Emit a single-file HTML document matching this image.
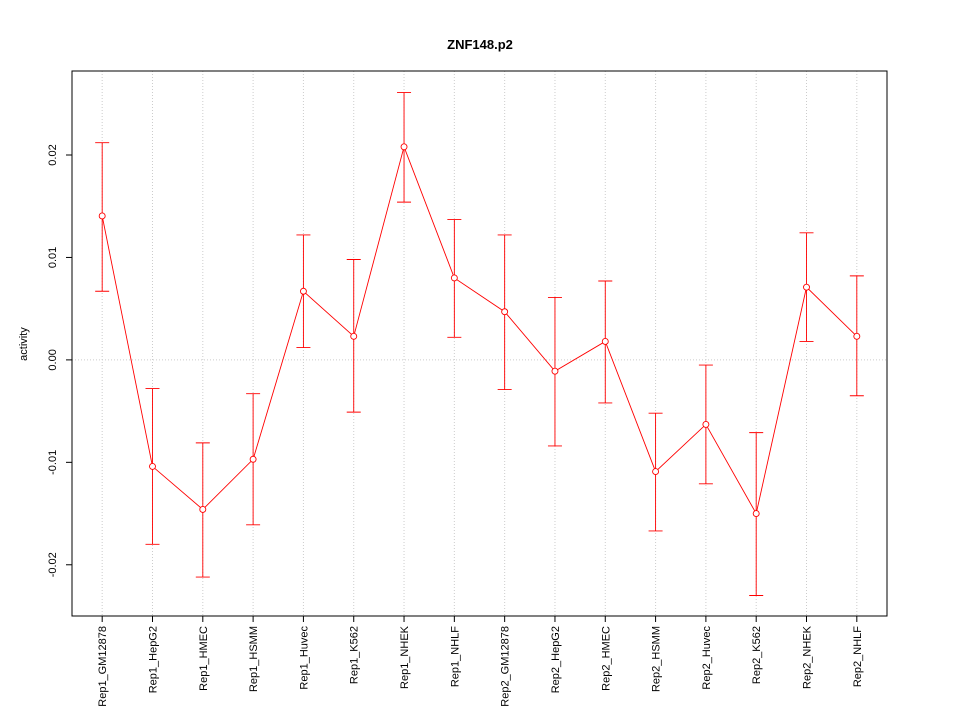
<!DOCTYPE html>
<html><head><meta charset="utf-8"><style>body{margin:0;background:#fff}svg{font-family:"Liberation Sans",sans-serif}</style></head>
<body>
<svg id="chart" width="960" height="720" xmlns="http://www.w3.org/2000/svg">
<rect width="960" height="720" fill="#fff"/>
<text x="480" y="49" text-anchor="middle" font-weight="bold" font-size="13">ZNF148.p2</text>
<text transform="translate(27,344) rotate(-90)" text-anchor="middle" font-size="11">activity</text>
<g id="grid"></g><g id="axes"></g><g id="marks"></g>
<rect x="72" y="71" width="815" height="545" fill="none" stroke="#000"/>
</svg>
<script>
const categories=["Rep1_GM12878","Rep1_HepG2","Rep1_HMEC","Rep1_HSMM","Rep1_Huvec","Rep1_K562","Rep1_NHEK","Rep1_NHLF","Rep2_GM12878","Rep2_HepG2","Rep2_HMEC","Rep2_HSMM","Rep2_Huvec","Rep2_K562","Rep2_NHEK","Rep2_NHLF"];
const values=[0.01405,-0.0104,-0.0146,-0.0097,0.0067,0.0023,0.0208,0.0080,0.0047,-0.0011,0.0018,-0.0109,-0.0063,-0.0150,0.0071,0.0023];
const upper=[0.0212,-0.0028,-0.0081,-0.0033,0.0122,0.0098,0.0261,0.0137,0.0122,0.0061,0.0077,-0.0052,-0.0005,-0.0071,0.0124,0.0082];
const lower=[0.0067,-0.0180,-0.0212,-0.0161,0.0012,-0.0051,0.0154,0.0022,-0.0029,-0.0084,-0.0042,-0.0167,-0.0121,-0.0230,0.0018,-0.0035];
const yTicks=[-0.02,-0.01,0,0.01,0.02];
const yTickLabels=["-0.02","-0.01","0.00","0.01","0.02"];
const NS="http://www.w3.org/2000/svg";
const X0=72,X1=887,Y0=71,Y1=616;
const n=categories.length, pad=(n-1)*0.04;
function xs(i){return X0+(i+1-(1-pad))/((n+pad)-(1-pad))*(X1-X0);}
const vmin=-0.0250,vmax=0.0282;
function ys(v){return Y1-(v-vmin)/(vmax-vmin)*(Y1-Y0);}
function mk(tag,attrs,parent){const e=document.createElementNS(NS,tag);for(const k in attrs)e.setAttribute(k,attrs[k]);document.getElementById(parent).appendChild(e);return e;}
categories.forEach((c,i)=>{
 const g=mk('line',{x1:xs(i),x2:xs(i),y1:Y0,y2:Y1,stroke:'#ccc','stroke-dasharray':'1,2'},'grid');
 
 
 const t=mk('line',{x1:xs(i),x2:xs(i),y1:Y1,y2:Y1+6,stroke:'#000'},'axes');
 
 
 const l=mk('text',{transform:`translate(${xs(i)+4},${Y1+10}) rotate(-90)`,'text-anchor':'end','font-size':'11'},'axes');
 l.textContent=c;
 
 
});
const z=mk('line',{x1:X0,x2:X1,y1:ys(0),y2:ys(0),stroke:'#ccc','stroke-dasharray':'1,2'},'grid');


yTicks.forEach((v,i)=>{
 const t=mk('line',{x1:X0-6,x2:X0,y1:ys(v),y2:ys(v),stroke:'#000'},'axes');
 
 
 const l=mk('text',{transform:`translate(${X0-16},${ys(v)}) rotate(-90)`,'text-anchor':'middle','font-size':'11'},'axes');
 l.textContent=yTickLabels[i];
 
 
});
const pts=values.map((v,i)=>xs(i)+','+ys(v)).join(' ');
const pl=mk('polyline',{points:pts,fill:'none',stroke:'#f00','stroke-width':'0.9'},'marks');


values.forEach((v,i)=>{
 const x=xs(i);
 const e=mk('path',{d:`M${x},${ys(upper[i])}V${ys(lower[i])}M${x-7},${ys(upper[i])}H${x+7}M${x-7},${ys(lower[i])}H${x+7}`,stroke:'#f00',fill:'none','stroke-width':'0.9'},'marks');
 
 
 const c=mk('circle',{cx:x,cy:ys(v),r:3,fill:'#fff',stroke:'#f00','stroke-width':'0.9'},'marks');
 
 
});
</script>
</body></html>
